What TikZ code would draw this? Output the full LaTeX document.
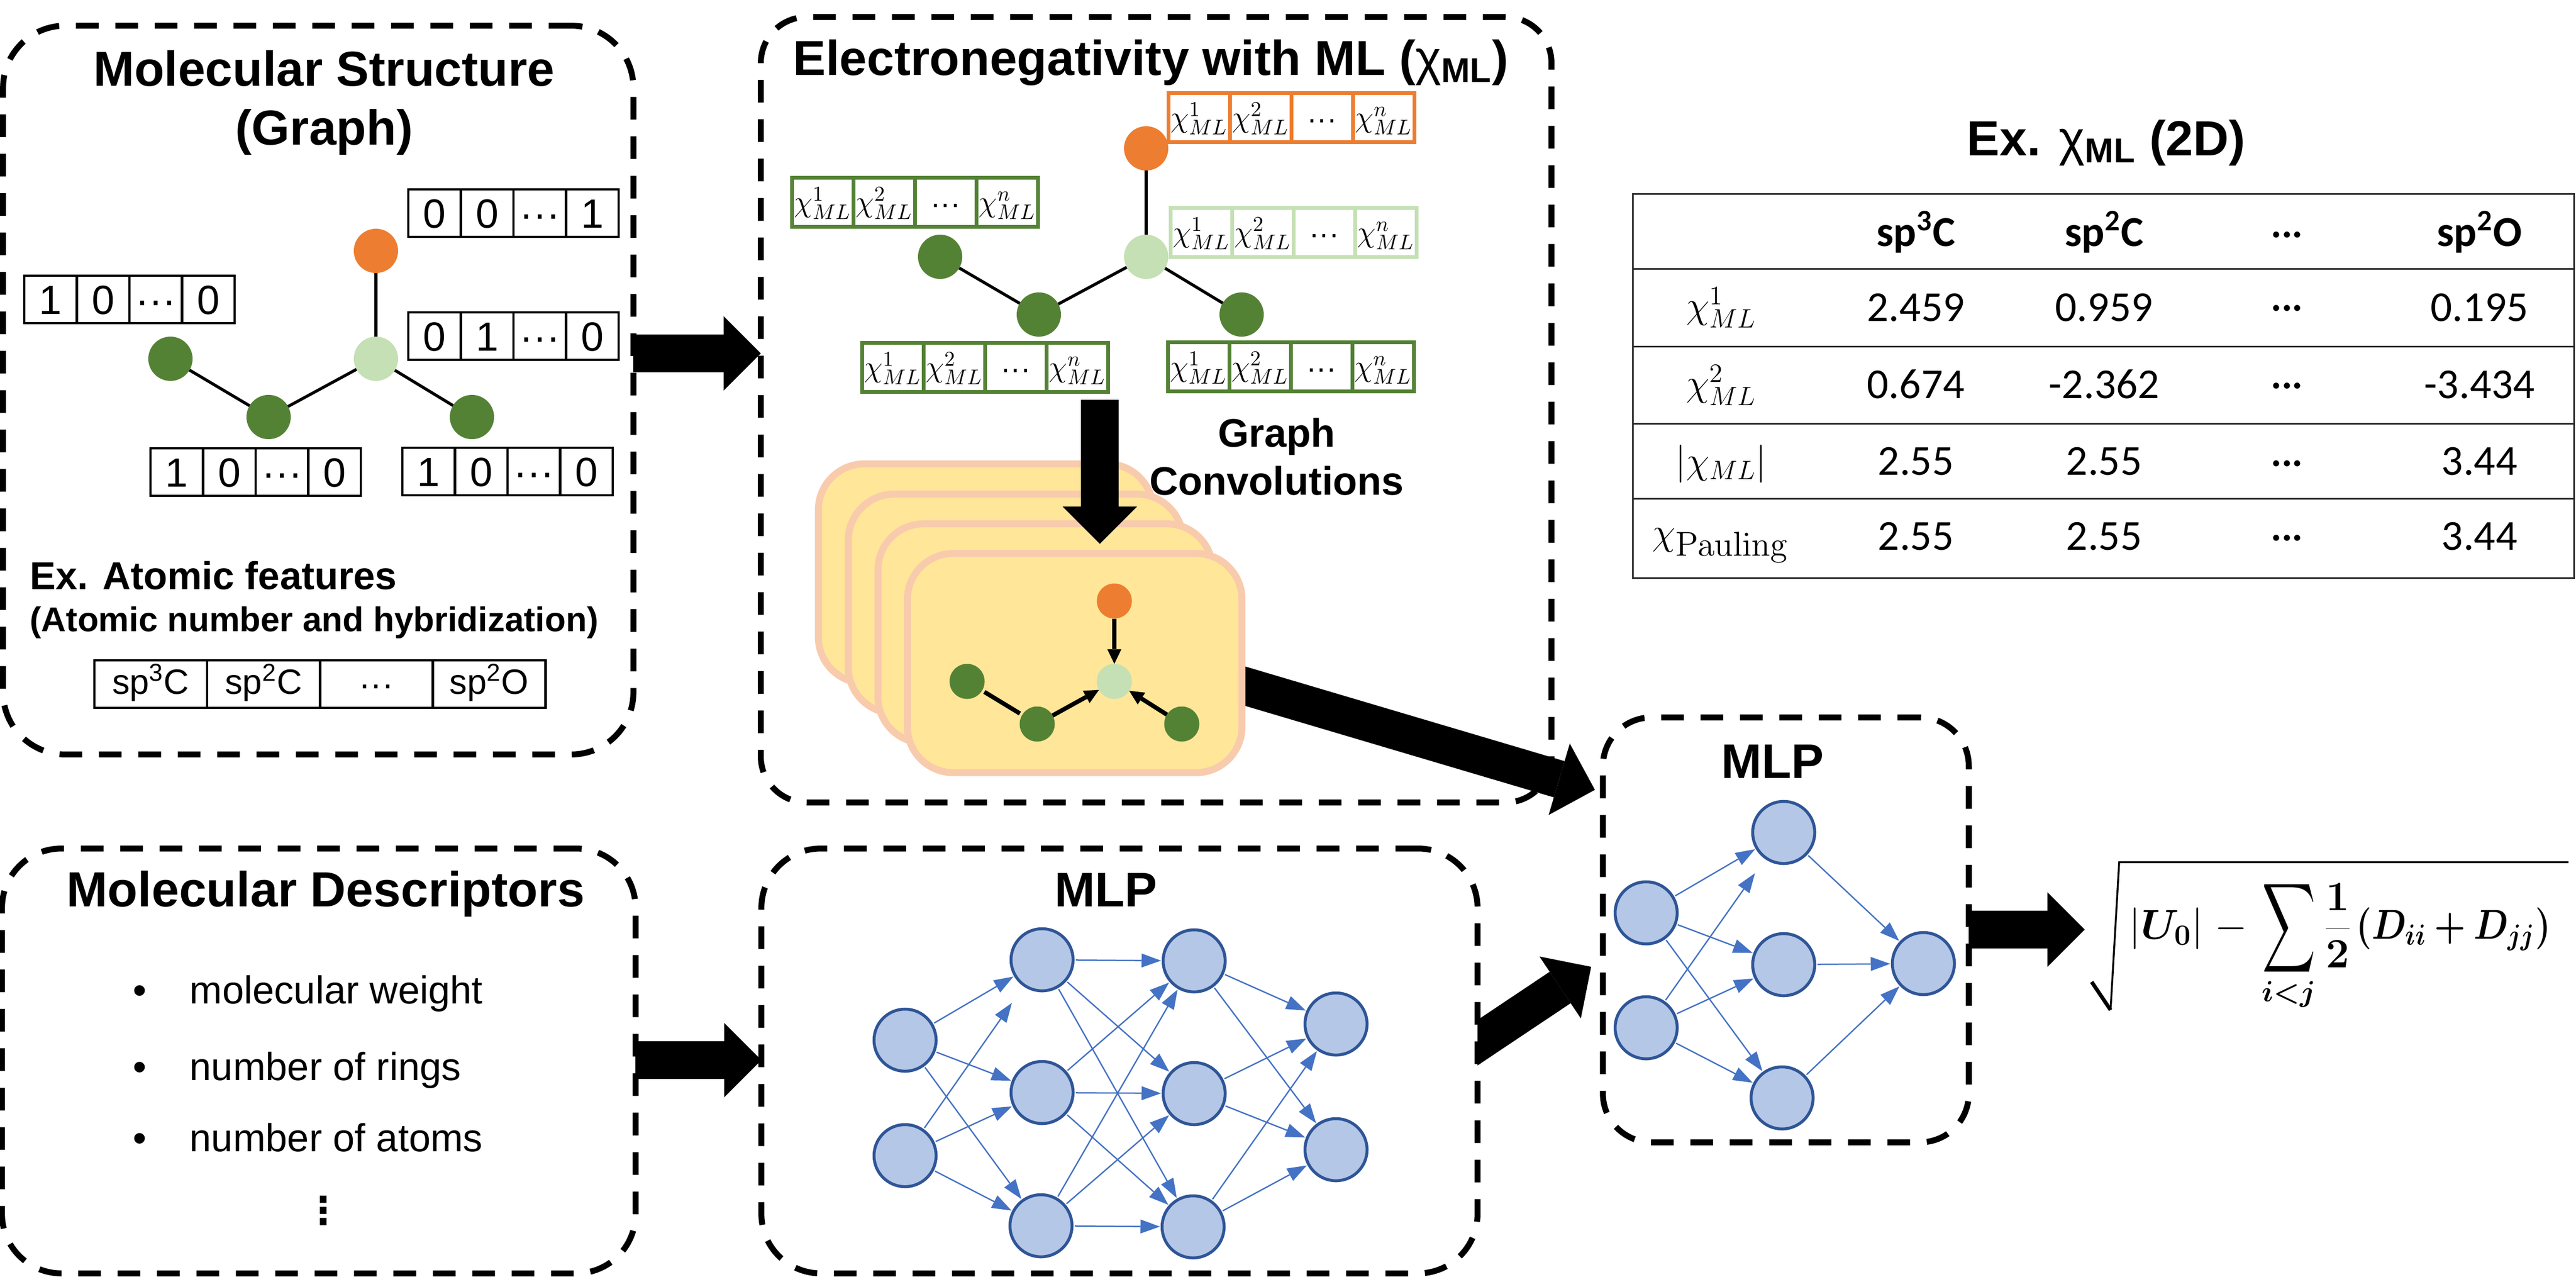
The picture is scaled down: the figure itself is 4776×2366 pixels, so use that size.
\RequirePackage{fix-cm}
\documentclass[tikz,border=0pt]{standalone}
\usepackage{bm}
\usepackage[no-math]{fontspec}
\setmainfont{Liberation Sans}
\newfontfamily\carl{Carlito}
\newfontfamily\dejav{DejaVu Sans}
\usetikzlibrary{arrows.meta,calc}
\newcommand\fsz[1]{\fontsize{#1}{#1}\selectfont}
\newcommand\chup[1]{$\chi^{#1}_{ML}$}
\newcommand\chiml{{\mdseries χ}\textsubscript{ML}}
\newcommand\celldots{\raisebox{-0.04cm}{···}}
\newcommand\cellrow[7]{%
  \node[#1,anchor=west] (#2a) at (#3) {#4};
  \node[#1,anchor=west] (#2b) at (#2a.east) {#5};
  \node[#1,anchor=west] (#2c) at (#2b.east) {#6};
  \node[#1,anchor=west] (#2d) at (#2c.east) {#7};}
\newcommand\formulatext{$\displaystyle |\bm{U_0}|\hspace{0.22cm}{-}\hspace{0.14cm}\mathop{\vcenter{\hbox{\resizebox{0.99cm}{1.56cm}{$\displaystyle\sum$}}}}\limits_{\bm{i<j}}\hspace{0.02cm}{\frac{\bm{1}}{\bm{2}}}\hspace{0.08cm}\scalebox{0.86}[1]{$\bm{(D_{ii}+D_{jj})}$}$}
\definecolor{cOrange}{HTML}{ED7D31}
\definecolor{cDark}{HTML}{548235}
\definecolor{cLight}{HTML}{C5E0B4}
\definecolor{cCard}{HTML}{FFE699}
\definecolor{cCardB}{HTML}{F8CBAD}
\definecolor{cNode}{HTML}{B4C7E7}
\definecolor{cNodeB}{HTML}{2F5597}
\definecolor{cEdge}{HTML}{4472C4}
\tikzset{
  x=0.01cm,y=-0.01cm,
  dbox/.style={draw=black,line width=0.11cm,dash pattern=on 0.42cm off 0.31cm,inner sep=0pt,outer sep=0pt,rectangle},
  ttl/.style={font=\fsz{25.9}\bfseries,anchor=base,inner sep=0pt},
  subttl/.style={font=\fsz{21}\bfseries,anchor=base,inner sep=0pt},
  bitcell/.style={draw=black,line width=0.045cm,minimum width=0.975cm,minimum height=0.88cm,inner sep=0pt,outer sep=0pt,text height=0.55cm,text depth=0cm,font=\fsz{21.5}},
  spcell/.style={draw=black,line width=0.045cm,minimum width=2.09cm,minimum height=0.88cm,inner sep=0pt,outer sep=0pt,text height=0.50cm,text depth=0.14cm,font=\fsz{18.5}},
  chicell/.style={draw=#1,line width=0.07cm,minimum width=1.14cm,minimum height=0.90cm,inner sep=0pt,outer sep=0pt,text height=0.50cm,text depth=0.15cm,font=\fsz{15.9}},
  atom/.style={circle,fill=#1,inner sep=0pt,outer sep=0pt,minimum size=0.82cm},
  smallatom/.style={circle,fill=#1,inner sep=0pt,outer sep=0pt,minimum size=0.65cm},
  bond/.style={draw=black,line width=0.055cm},
  card/.style={rectangle,draw=cCardB,fill=cCard,line width=0.13cm,rounded corners=0.85cm,minimum width=6.2cm,minimum height=4.06cm,inner sep=0pt,outer sep=0pt},
  gbond/.style={draw=black,line width=0.08cm},
  garrow/.style={gbond,-{Triangle[length=0.27cm,width=0.26cm,line width=0pt]}},
  bigarrow/.style={draw=black,line width=0.70cm,-{Triangle[length=0.69cm,width=1.38cm,line width=0pt]}},
  neuron/.style={circle,draw=cNodeB,fill=cNode,line width=0.055cm,minimum size=1.15cm,inner sep=0pt,outer sep=0pt},
  nnedge/.style={draw=cEdge,line width=0.025cm,shorten >=0.04cm,shorten <=0.05cm,-{Triangle[length=0.36cm,width=0.26cm,line width=0pt]}},
  tcell/.style={font=\fsz{22.5}\carl,anchor=base,inner sep=0pt},
  thead/.style={font=\fsz{22.5}\carl\bfseries,anchor=base,inner sep=0pt},
  tmath/.style={font=\fsz{20},anchor=center,inner sep=0pt},
  tline/.style={draw=black!85,line width=0.03cm},
  listitem/.style={font=\fsz{20.6},anchor=base west,inner sep=0pt},
}
\begin{document}
\begin{tikzpicture}
\useasboundingbox (0,0) rectangle (4776,2366);
\fill[white] (0,0) rectangle (4776,2366);

% dashed panels
\node[dbox,rounded corners=1.15cm,minimum width=11.68cm,minimum height=13.50cm] (b1) at (590,723) {};
\node[dbox,rounded corners=0.85cm,minimum width=14.65cm,minimum height=14.55cm] (b2) at (2143.5,759.5) {};
\node[dbox,rounded corners=1.10cm,minimum width=11.74cm,minimum height=7.87cm] (b3) at (591,1966.5) {};
\node[dbox,rounded corners=1.10cm,minimum width=13.27cm,minimum height=7.87cm] (b4) at (2075.5,1966.5) {};
\node[dbox,rounded corners=0.90cm,minimum width=6.78cm,minimum height=7.87cm] (b5) at (3311,1723.5) {};

% panel 1
\node[ttl] (t1a) at (601,159) {Molecular Structure};
\node[ttl] (t1b) at (601,268) {(Graph)};
\cellrow{bitcell}{vA}{757,395}{0}{0}{···}{1}
\cellrow{bitcell}{vB}{757,623}{0}{1}{···}{0}
\cellrow{bitcell}{vC}{45,555}{1}{0}{···}{0}
\cellrow{bitcell}{vD}{279,875}{1}{0}{···}{0}
\cellrow{bitcell}{vE}{746,874}{1}{0}{···}{0}
\node[atom=cOrange] (m1o) at (697,465) {};
\node[atom=cLight] (m1l) at (697,665) {};
\node[atom=cDark] (m1a) at (316,665) {};
\node[atom=cDark] (m1b) at (498,773) {};
\node[atom=cDark] (m1c) at (875,773) {};
\draw[bond] (m1o) -- (m1l);
\draw[bond] (m1a) -- (m1b);
\draw[bond] (m1b) -- (m1l);
\draw[bond] (m1l) -- (m1c);
\node[font=\fsz{20.5}\bfseries,anchor=base west,inner sep=0pt] (t1c) at (55,1092) {Ex. Atomic features};
\node[font=\fsz{18.1}\bfseries,anchor=base west,inner sep=0pt] (t1d) at (55,1170) {(Atomic number and hybridization)};
\cellrow{spcell}{vS}{175,1268}{sp\textsuperscript{3}C}{sp\textsuperscript{2}C}{\celldots}{sp\textsuperscript{2}O}

% panel 2
\node[font=\fsz{25.9}\bfseries,anchor=base west,inner sep=0pt] (t2) at (1470,139) {Electronegativity with ML (\chiml)};
\cellrow{chicell=cOrange}{xA}{2166,218}{\chup{1}}{\chup{2}}{\celldots}{\chup{n}}
\cellrow{chicell=cDark}{xB}{1468,375}{\chup{1}}{\chup{2}}{\celldots}{\chup{n}}
\cellrow{chicell=cLight}{xC}{2170,431}{\chup{1}}{\chup{2}}{\celldots}{\chup{n}}
\cellrow{chicell=cDark}{xD}{1598,681}{\chup{1}}{\chup{2}}{\celldots}{\chup{n}}
\cellrow{chicell=cDark}{xE}{2165,680}{\chup{1}}{\chup{2}}{\celldots}{\chup{n}}
\node[atom=cOrange] (m2o) at (2125,275) {};
\node[atom=cLight] (m2l) at (2125,476) {};
\node[atom=cDark] (m2a) at (1743,476) {};
\node[atom=cDark] (m2b) at (1926,583) {};
\node[atom=cDark] (m2c) at (2302,583) {};
\draw[bond] (m2o) -- (m2l);
\draw[bond] (m2a) -- (m2b);
\draw[bond] (m2b) -- (m2l);
\draw[bond] (m2l) -- (m2c);

% arrow out of the card stack: starts under the front card
\coordinate (a2s) at (2250,1254.5);
\coordinate (a2e) at (2957,1464);
\draw[bigarrow] (a2s) -- (a2e);

\node[card] (c1) at (1827.5,1063) {};
\node[card] (c2) at (1883,1119) {};
\node[card] (c3) at (1938,1174) {};
\node[card] (c4) at (1992.5,1229) {};
\node[smallatom=cOrange] (g1o) at (2066,1114) {};
\node[smallatom=cLight] (g1l) at (2066,1263) {};
\node[smallatom=cDark] (g1a) at (1793,1263) {};
\node[smallatom=cDark] (g1b) at (1923,1342) {};
\node[smallatom=cDark] (g1c) at (2191,1342) {};
\draw[gbond,shorten <=0.05cm,shorten >=0.05cm] (g1a) -- (g1b);
\draw[garrow] (g1o) -- (g1l);
\draw[garrow] (g1b) -- (g1l);
\draw[garrow] (g1c) -- (g1l);
\node[subttl] (t2b) at (2367,828) {Graph};
\node[subttl] (t2c) at (2367,917) {Convolutions};
\coordinate (dnS) at (2039,741);
\coordinate (dnE) at (2039,1008);
\draw[bigarrow] (dnS) -- (dnE);

% table
\node[font=\fsz{26}\bfseries,anchor=base,inner sep=0pt] (t3) at (3905,288) {Ex. \chiml{} (2D)};
\node[rectangle,draw=black!85,line width=0.03cm,minimum width=17.44cm,minimum height=7.11cm,inner sep=0pt,outer sep=0pt] (tb) at (3900,715.5) {};
\draw[tline] (tb.west |- 0,498) -- (tb.east |- 0,498);
\draw[tline] (tb.west |- 0,642) -- (tb.east |- 0,642);
\draw[tline] (tb.west |- 0,785) -- (tb.east |- 0,785);
\draw[tline] (tb.west |- 0,924) -- (tb.east |- 0,924);
\node[thead] (th1) at (3552,456) {sp\textsuperscript{3}C};
\node[thead] (th2) at (3901,456) {sp\textsuperscript{2}C};
\node[thead] (th4) at (4597,456) {sp\textsuperscript{2}O};
\node[tcell] (d0) at (4240,457) {···};
\node[tmath] (r1) at (3191,570) {\chup{1}};
\node[tcell] (r1a) at (3552,595) {2.459};
\node[tcell] (r1b) at (3901,595) {0.959};
\node[tcell] (d1) at (4240,593) {···};
\node[tcell] (r1d) at (4597,595) {0.195};
\node[tmath] (r2) at (3191,714) {\chup{2}};
\node[tcell] (r2a) at (3552,738) {0.674};
\node[tcell] (r2b) at (3901,738) {-2.362};
\node[tcell] (d2) at (4240,737) {···};
\node[tcell] (r2d) at (4597,738) {-3.434};
\node[tmath] (r3) at (3191,860) {$|\chi_{ML}|$};
\node[tcell] (r3a) at (3552,880) {2.55};
\node[tcell] (r3b) at (3901,880) {2.55};
\node[tcell] (d3) at (4240,881) {···};
\node[tcell] (r3d) at (4597,880) {3.44};
\node[tmath] (r4) at (3190,1011) {$\chi_{\scalebox{1.3}{$\scriptstyle\mathrm{Pauling}$}}$};
\node[tcell] (r4a) at (3552,1019) {2.55};
\node[tcell] (r4b) at (3901,1019) {2.55};
\node[tcell] (d4) at (4240,1019) {···};
\node[tcell] (r4d) at (4597,1019) {3.44};

% panel 3
\node[font=\fsz{26}\bfseries,anchor=base,inner sep=0pt] (t4) at (604,1680) {Molecular Descriptors};
\node[listitem] (l1b) at (246,1860) {•};
\node[listitem] (l1) at (351,1860) {molecular weight};
\node[listitem] (l2b) at (246,2002) {•};
\node[listitem] (l2) at (351,2002) {number of rings};
\node[listitem] (l3b) at (246,2134) {•};
\node[listitem] (l3) at (351,2134) {number of atoms};
\node[font=\fsz{20}\bfseries\dejav,inner sep=0pt] (vd) at (600,2244) {⋮};

% panel 4 network
\node[font=\fsz{25.6}\bfseries,anchor=base,inner sep=0pt] (t5) at (2050,1680) {MLP};
\node[neuron] (i1) at (1678,1928) {};
\node[neuron] (i2) at (1678,2142) {};
\node[neuron] (h1) at (1932,1779) {};
\node[neuron] (h2) at (1932,2025) {};
\node[neuron] (h3) at (1930,2272) {};
\node[neuron] (j1) at (2214,1781) {};
\node[neuron] (j2) at (2214,2027) {};
\node[neuron] (j3) at (2212,2274) {};
\node[neuron] (o1) at (2477,1898) {};
\node[neuron] (o2) at (2477,2131) {};
\foreach \a/\b in {i1/h1,i1/h2,i1/h3,i2/h2,i2/h3,
  h1/j1,h1/j2,h1/j3,h2/j1,h2/j2,h2/j3,h3/j1,h3/j2,h3/j3,
  j1/o1,j1/o2,j2/o1,j2/o2,j3/o1,j3/o2}
  \draw[nnedge] (\a) -- (\b);
\draw[nnedge,shorten >=0.4cm] (i2) -- (h1);

% panel 5 network
\node[font=\fsz{25.6}\bfseries,anchor=base,inner sep=0pt] (t6) at (3286,1442) {MLP};
\node[neuron] (p1) at (3052,1692) {};
\node[neuron] (p2) at (3052,1905) {};
\node[neuron] (q1) at (3307,1543) {};
\node[neuron] (q2) at (3307,1788) {};
\node[neuron] (q3) at (3304,2035) {};
\node[neuron] (s1) at (3566,1786) {};
\foreach \a/\b in {p1/q1,p1/q2,p1/q3,p2/q2,p2/q3,q1/s1,q2/s1,q3/s1}
  \draw[nnedge] (\a) -- (\b);
\draw[nnedge,shorten >=0.35cm] (p2) -- (q1);

% big arrows
\coordinate (a1s) at (b1.east |- 0,655);
\coordinate (a1e) at (b2.west |- 0,655);
\draw[bigarrow] (a1s) -- (a1e);
\coordinate (a3s) at (b3.east |- 0,1965);
\coordinate (a3e) at (b4.west |- 0,1965);
\draw[bigarrow] (a3s) -- (a3e);
\coordinate (a4s) at (2700,1959);
\coordinate (a4e) at (2950,1792);
\begin{scope}
\clip (b4.east |- 0,1650) rectangle (3100,2100);
\draw[bigarrow] (a4s) -- (a4e);
\end{scope}
\coordinate (a5s) at (b5.east |- 0,1723);
\coordinate (a5e) at (3865,1723);
\draw[bigarrow] (a5s) -- (a5e);

% formula
\coordinate (su1) at (3878,1820);
\coordinate (su2) at (3913,1872);
\coordinate (su3) at (3929,1598);
\coordinate (su4) at (4762,1598);
\draw[line width=0.07cm] (su1) -- (su2);
\draw[line width=0.035cm,line join=miter] (su2) -- (su3) -- (su4);
\node[font=\fsz{22},anchor=base west,inner sep=0pt] (fm) at (3947,1740) {\formulatext};
\end{tikzpicture}
\end{document}
